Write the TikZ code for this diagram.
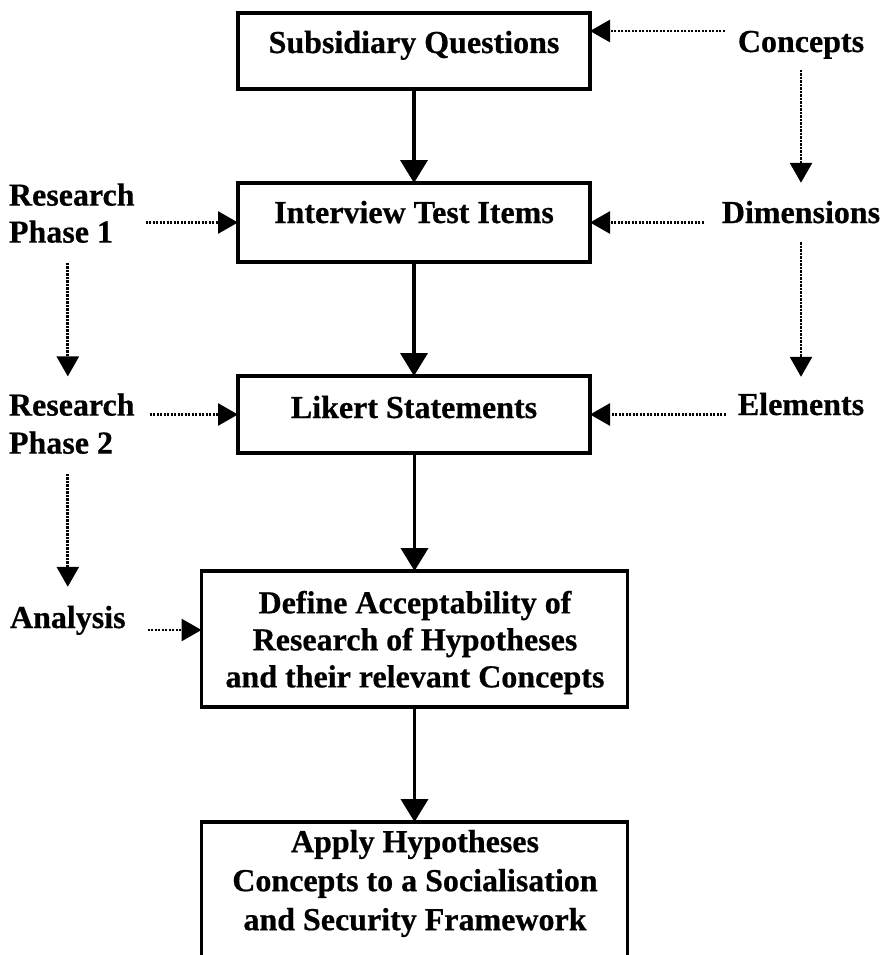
\documentclass[tikz,border=0pt]{standalone}
\usepackage{fontspec}
\setmainfont{Liberation Serif}[BoldFeatures={FakeBold=0.6}]
\usetikzlibrary{arrows.meta}
\begin{document}
\begin{tikzpicture}[x=1pt,y=-1pt,
  every node/.style={inner sep=0pt, outer sep=0pt},
  txt/.style={font=\fontsize{32}{37}\selectfont\bfseries},
  flowbox/.style={draw=black, line width=3.6pt, inner sep=0pt},
  mainarr/.style={line width=3.8pt, -{Triangle[length=23pt,width=27pt]}},
  dotarr/.style={line width=2.7pt, dash pattern=on 2.2pt off 1.3pt,
    -{Triangle[length=20pt,width=22pt]}}]
\useasboundingbox (0,0) rectangle (885,955);
\clip (0,0) rectangle (885,955);

% central chain of boxes
\node[flowbox, minimum width=352pt, minimum height=76pt]  (sq) at (414,51) {};
\node[flowbox, minimum width=352pt, minimum height=79pt]  (it) at (414,222.5) {};
\node[flowbox, minimum width=352pt, minimum height=77pt]  (lk) at (414,414.5) {};
\node[flowbox, minimum width=426pt, minimum height=136pt] (ad) at (414.5,639) {};
\node[flowbox, minimum width=426pt, minimum height=168pt] (ap) at (414.5,906) {};

% box texts
\node[txt, anchor=base] (sqt) at (414,53) {Subsidiary Questions};
\node[txt, anchor=base] (itt) at (414,223) {Interview Test Items};
\node[txt, anchor=base] (lkt) at (414,418) {Likert Statements};
\node[txt, align=center] (adt) at (415,642.5)
  {Define Acceptability of\\Research of Hypotheses\\and their relevant Concepts};
\node[txt, font=\fontsize{32}{39}\selectfont\bfseries, align=center] (apt) at (415,883.5)
  {Apply Hypotheses\\Concepts to a Socialisation\\and Security Framework};

% left-hand column
\node[txt, align=left, anchor=north west] (rp1) at (9,183.4) {Research\\Phase 1};
\node[txt, font=\fontsize{32}{38}\selectfont\bfseries, align=left, anchor=north west]
  (rp2) at (9,393.4) {Research\\Phase 2};
\node[txt, anchor=base west] (an) at (10,628) {Analysis};

% right-hand column
\node[txt, anchor=base] (co) at (801,52)  {Concepts};
\node[txt, anchor=base] (di) at (801,223) {Dimensions};
\node[txt, anchor=base] (el) at (801,415) {Elements};

% solid flow
\draw[mainarr] (sq) -- (it);
\draw[mainarr] (it) -- (lk);
\draw[mainarr] (lk.south -| ad.north) -- (ad.north);
\draw[mainarr] (ad) -- (ap);

% dotted inputs from the right
\coordinate (sqin) at ([yshift=20pt]sq.east);
\draw[dotarr, shorten <=13pt] (co.west |- sqin) -- (sqin);
\draw[dotarr, shorten <=18pt] (di.west |- it.east) -- (it.east);
\draw[dotarr, shorten <=12pt] (el.west |- lk.east) -- (lk.east);
\draw[dotarr, shorten <=11pt, shorten >=18pt] (co.south) -- (di.north);
\draw[dotarr, shorten <=19pt, shorten >=16pt] (di.south) -- (el.north);

% dotted inputs from the left
\coordinate (adin) at ([yshift=9pt]ad.west);
\draw[dotarr, shorten <=11pt] (rp1.east |- it.west) -- (it.west);
\draw[dotarr, shorten <=15pt] (rp2.east |- lk.west) -- (lk.west);
\draw[dotarr, shorten <=22pt] (an.east |- adin) -- (adin);
\draw[dotarr, shorten <=20pt, shorten >=17pt] (an.north |- rp1.south) -- (an.north |- rp2.north);
\draw[dotarr, shorten <=20pt, shorten >=19pt] (an.north |- rp2.south) -- (an.north);
\end{tikzpicture}
\end{document}
